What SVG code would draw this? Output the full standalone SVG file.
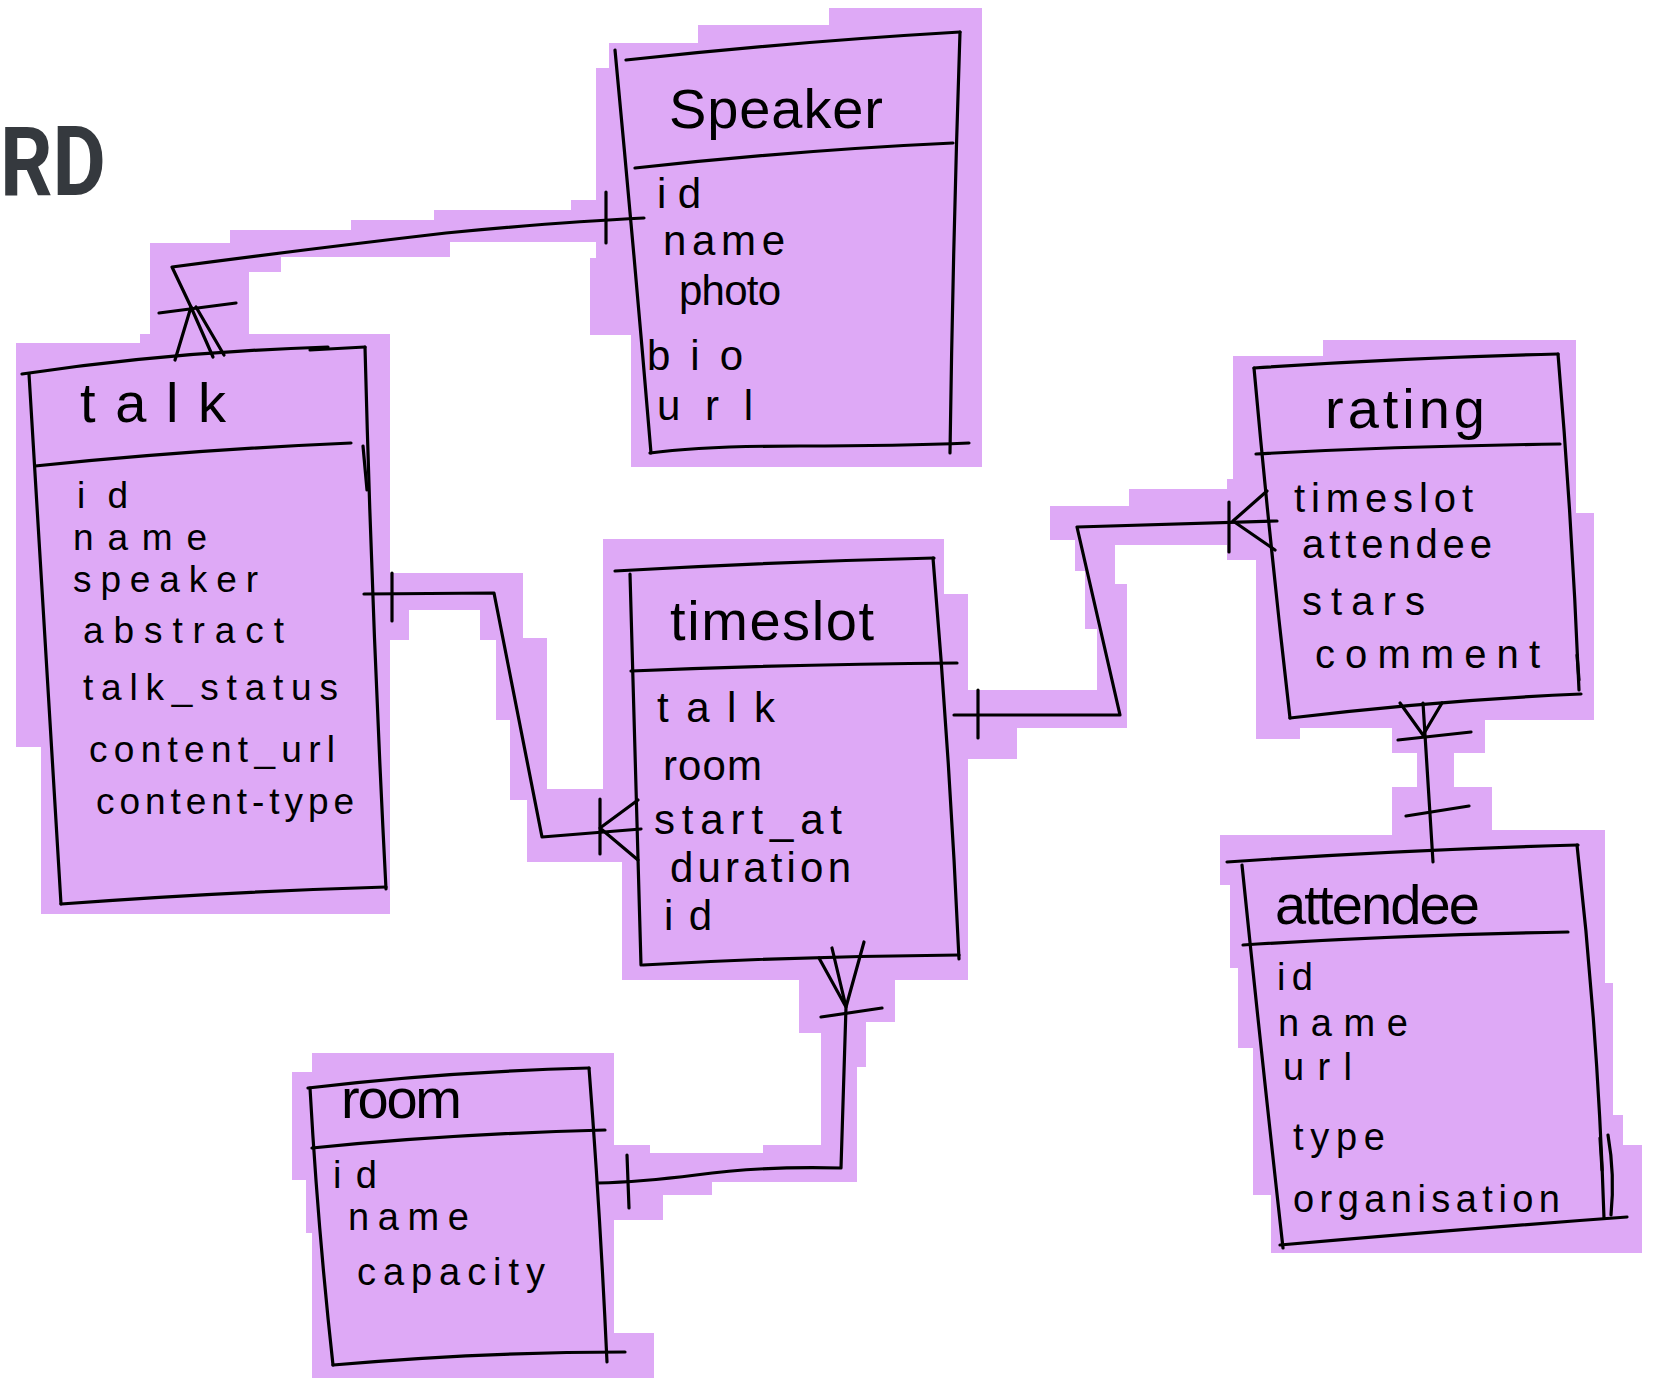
<svg xmlns="http://www.w3.org/2000/svg" width="1653" height="1378" viewBox="0 0 1653 1378">
  <style>
    .hl { fill: #DEA9F6; stroke: none; }
    .ln { fill: none; stroke: #000; stroke-width: 3.2; stroke-linecap: round; stroke-linejoin: round; }
    .t  { font-family: "Liberation Sans", Arial, sans-serif; fill: #000; }
    .ttl { font-size: 56px; }
    .spk { font-size: 42px; }
    .tlk { font-size: 37px; }
    .tsl { font-size: 42px; }
    .rat { font-size: 40px; }
    .sm  { font-size: 38px; }
    .head { font-family: Roboto, "Liberation Sans", sans-serif; font-weight: bold; font-size: 96px; fill: #35393E; }
  </style>

  <rect width="1653" height="1378" fill="#FFFFFF"/>

  <!-- highlighter background patches -->
  <g id="highlights">
    <polygon class="hl" points="609,43 698,43 698,25 829,25 829,8 982,8 982,467 631,467 631,335 590,335 590,258 596,258 596,68 609,68"/>
    <polygon class="hl" points="600,200 571,200 571,210 434,210 434,220 351,220 351,230 230,230 230,243 150,243 150,345 249,345 249,272 281,272 281,257 450,257 450,242 600,242"/>
    <polygon class="hl" points="16,343 140,343 140,334 390,334 390,914 41,914 41,747 16,747"/>
    <polygon class="hl" points="390,573 523,573 523,638 547,638 547,789 603,789 603,862 527,862 527,800 510,800 510,720 496,720 496,640 480,640 480,610 409,610 409,640 390,640"/>
    <polygon class="hl" points="603,539 944,539 944,594 968,594 968,980 622,980 622,862 603,862"/>
    <polygon class="hl" points="799,970 895,970 895,1022 866,1022 866,1067 857,1067 857,1182 712,1182 712,1195 663,1195 663,1220 614,1220 614,1145 650,1145 650,1153 763,1153 763,1145 821,1145 821,1033 799,1033"/>
    <polygon class="hl" points="312,1053 614,1053 614,1333 654,1333 654,1378 312,1378 312,1233 306,1233 306,1180 292,1180 292,1072 312,1072"/>
    <polygon class="hl" points="966,690 1097,690 1097,629 1085,629 1085,571 1075,571 1075,540 1050,540 1050,506 1129,506 1129,489 1227,489 1227,479 1260,479 1260,560 1227,560 1227,545 1115,545 1115,584 1127,584 1127,728 1017,728 1017,759 966,759"/>
    <polygon class="hl" points="1233,356 1323,356 1323,340 1576,340 1576,513 1594,513 1594,720 1392,720 1392,728 1300,728 1300,739 1256,739 1256,479 1233,479"/>
    <polygon class="hl" points="1392,718 1485,718 1485,753 1454,753 1454,787 1492,787 1492,836 1392,836 1392,787 1417,787 1417,753 1392,753"/>
    <polygon class="hl" points="1220,835 1392,835 1392,830 1605,830 1605,983 1613,983 1613,1115 1623,1115 1623,1145 1642,1145 1642,1253 1271,1253 1271,1195 1253,1195 1253,1048 1238,1048 1238,968 1230,968 1230,885 1220,885"/>
  </g>

  <text class="head" x="0" y="195" textLength="106" lengthAdjust="spacingAndGlyphs">RD</text>

  <!-- Speaker table -->
  <g id="speaker">
    <path class="ln" d="M615,50 Q634,250 651,453"/>
    <path class="ln" d="M626,60 Q790,42 960,32"/>
    <path class="ln" d="M960,32 Q953,240 950,453"/>
    <path class="ln" d="M635,168 Q800,150 953,143"/>
    <path class="ln" d="M650,453 Q700,446 800,446 T969,443"/>
    <text class="t ttl" x="669" y="128" font-size="60" textLength="214" lengthAdjust="spacing">Speaker</text>
    <text class="t spk" x="657" y="208" textLength="44" lengthAdjust="spacing">id</text>
    <text class="t spk" x="663" y="255" textLength="122" lengthAdjust="spacing">name</text>
    <text class="t spk" x="679" y="305" textLength="102" lengthAdjust="spacing">photo</text>
    <text class="t spk" x="647" y="370" textLength="96" lengthAdjust="spacing">bio</text>
    <text class="t spk" x="657" y="420" textLength="96" lengthAdjust="spacing">url</text>
  </g>

  <!-- talk table -->
  <g id="talk">
    <path class="ln" d="M22,374 Q170,352 328,347"/>
    <path class="ln" d="M310,350 L365,347"/>
    <path class="ln" d="M29,374 Q44,640 61,904"/>
    <path class="ln" d="M365,347 Q372,620 386,889"/>
    <path class="ln" d="M35,466 Q190,450 351,443"/>
    <path class="ln" d="M61,904 Q220,892 386,887"/>
    <path class="ln" d="M363,446 L367,490"/>
    <text class="t ttl" x="80" y="422" font-size="60" textLength="146" lengthAdjust="spacing">talk</text>
    <text class="t tlk" x="77" y="508" textLength="51" lengthAdjust="spacing">id</text>
    <text class="t tlk" x="73" y="550" textLength="134" lengthAdjust="spacing">name</text>
    <text class="t tlk" x="73" y="592" textLength="185" lengthAdjust="spacing">speaker</text>
    <text class="t tlk" x="83" y="643" textLength="201" lengthAdjust="spacing">abstract</text>
    <text class="t tlk" x="83" y="700" textLength="255" lengthAdjust="spacing">talk_status</text>
    <text class="t tlk" x="89" y="762" textLength="246" lengthAdjust="spacing">content_url</text>
    <text class="t tlk" x="96" y="814" textLength="258" lengthAdjust="spacing">content-type</text>
  </g>

  <!-- timeslot table -->
  <g id="timeslot">
    <path class="ln" d="M615,571 Q770,562 934,558"/>
    <path class="ln" d="M630,574 Q636,770 641,965"/>
    <path class="ln" d="M933,558 Q950,760 959,959"/>
    <path class="ln" d="M631,671 Q800,664 957,663"/>
    <path class="ln" d="M643,965 Q800,956 959,955"/>
    <text class="t ttl" x="670" y="640" textLength="204" lengthAdjust="spacing">timeslot</text>
    <text class="t tsl" x="657" y="722" textLength="118" lengthAdjust="spacing">talk</text>
    <text class="t tsl" x="663" y="780" textLength="99" lengthAdjust="spacing">room</text>
    <text class="t tsl" x="654" y="834" textLength="188" lengthAdjust="spacing">start_at</text>
    <text class="t tsl" x="670" y="882" textLength="181" lengthAdjust="spacing">duration</text>
    <text class="t tsl" x="664" y="930" textLength="48" lengthAdjust="spacing">id</text>
  </g>

  <!-- rating table -->
  <g id="rating">
    <path class="ln" d="M1254,368 Q1400,358 1558,354"/>
    <path class="ln" d="M1254,368 Q1270,545 1290,718"/>
    <path class="ln" d="M1558,354 Q1572,520 1579,690"/>
    <path class="ln" d="M1256,454 Q1400,446 1560,444"/>
    <path class="ln" d="M1290,718 Q1440,700 1581,694"/>
    <path class="ln" d="M1577,655 L1579,680"/>
    <text class="t ttl" x="1325" y="428" font-size="52" textLength="160" lengthAdjust="spacing">rating</text>
    <text class="t rat" x="1294" y="512" textLength="179" lengthAdjust="spacing">timeslot</text>
    <text class="t rat" x="1302" y="558" textLength="190" lengthAdjust="spacing">attendee</text>
    <text class="t rat" x="1302" y="615" textLength="123" lengthAdjust="spacing">stars</text>
    <text class="t rat" x="1315" y="668" textLength="225" lengthAdjust="spacing">comment</text>
  </g>

  <!-- attendee table -->
  <g id="attendee">
    <path class="ln" d="M1227,862 Q1400,850 1578,845"/>
    <path class="ln" d="M1242,865 Q1262,1060 1283,1248"/>
    <path class="ln" d="M1577,845 Q1598,1030 1604,1218"/>
    <path class="ln" d="M1243,945 Q1400,935 1568,932"/>
    <path class="ln" d="M1280,1245 Q1450,1230 1627,1217"/>
    <path class="ln" d="M1600,1138 L1602,1170"/>
    <path class="ln" d="M1608,1135 Q1615,1175 1611,1215"/>
    <text class="t ttl" x="1275" y="924" font-size="48" textLength="205" lengthAdjust="spacing">attendee</text>
    <text class="t sm" x="1277" y="990" textLength="36" lengthAdjust="spacing">id</text>
    <text class="t sm" x="1278" y="1036" textLength="130" lengthAdjust="spacing">name</text>
    <text class="t sm" x="1283" y="1080" textLength="69" lengthAdjust="spacing">url</text>
    <text class="t sm" x="1293" y="1150" textLength="92" lengthAdjust="spacing">type</text>
    <text class="t sm" x="1293" y="1212" textLength="267" lengthAdjust="spacing">organisation</text>
  </g>

  <!-- room table -->
  <g id="room">
    <path class="ln" d="M308,1088 Q440,1072 589,1068"/>
    <path class="ln" d="M310,1088 Q318,1230 333,1365"/>
    <path class="ln" d="M589,1068 Q600,1210 607,1362"/>
    <path class="ln" d="M312,1148 Q450,1134 605,1130"/>
    <path class="ln" d="M333,1365 Q480,1352 625,1352"/>
    <text class="t ttl" x="341" y="1118" font-size="48" textLength="121" lengthAdjust="spacing">room</text>
    <text class="t sm" x="333" y="1188" textLength="44" lengthAdjust="spacing">id</text>
    <text class="t sm" x="348" y="1230" textLength="121" lengthAdjust="spacing">name</text>
    <text class="t sm" x="357" y="1285" textLength="188" lengthAdjust="spacing">capacity</text>
  </g>

  <!-- relationships (crow's foot notation) -->
  <g id="connectors">
    <!-- talk >|—| Speaker -->
    <path class="ln" d="M644,218 Q560,222 446,233 Q300,250 172,267 L191,307"/>
    <path class="ln" d="M606,192 L606,243"/>
    <path class="ln" d="M159,313 L236,303"/>
    <path class="ln" d="M175,360 L191,307 L213,357"/>
    <path class="ln" d="M196,307 L224,355"/>

    <!-- talk |—< timeslot -->
    <path class="ln" d="M364,594 L494,593 L542,837 L641,829"/>
    <path class="ln" d="M392,573 L392,621"/>
    <path class="ln" d="M600,799 L600,854"/>
    <path class="ln" d="M638,800 L600,828 L638,860"/>

    <!-- timeslot |—< rating -->
    <path class="ln" d="M954,715 L1120,715 L1077,527 L1277,521"/>
    <path class="ln" d="M978,690 L978,738"/>
    <path class="ln" d="M1229,502 L1229,552"/>
    <path class="ln" d="M1267,491 L1233,521 L1275,550"/>

    <!-- rating >—| attendee -->
    <path class="ln" d="M1423,703 L1433,862"/>
    <path class="ln" d="M1398,740 L1471,732"/>
    <path class="ln" d="M1400,703 L1423,735 L1442,703"/>
    <path class="ln" d="M1406,816 L1469,806"/>

    <!-- room |—< timeslot -->
    <path class="ln" d="M598,1183 Q640,1182 696,1175 Q760,1166 841,1168 L846,1007 L832,948"/>
    <path class="ln" d="M627,1155 L629,1208"/>
    <path class="ln" d="M821,1017 L882,1008"/>
    <path class="ln" d="M819,958 L846,1007 L864,942"/>
  </g>
</svg>
